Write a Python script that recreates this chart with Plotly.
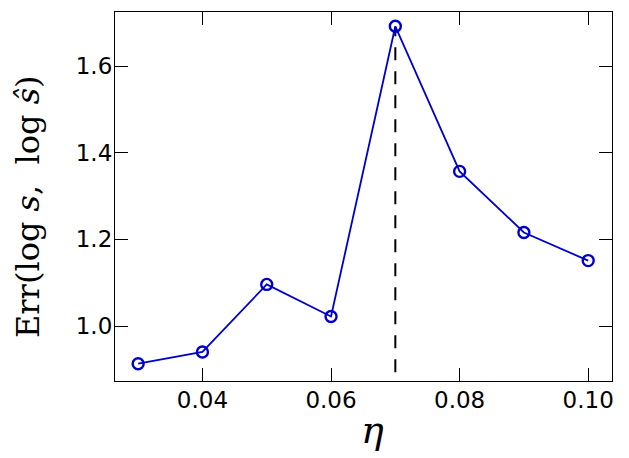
import plotly.graph_objects as go

eta = [0.03, 0.04, 0.05, 0.06, 0.07, 0.08, 0.09, 0.10]
err = [0.913, 0.940, 1.096, 1.022, 1.692, 1.357, 1.216, 1.151]
peak_eta = 0.07
vline_y = [0.893, 1.69]
x_ticks = [0.04, 0.06, 0.08, 0.10]
x_ticklabels = ["0.04", "0.06", "0.08", "0.10"]
y_ticks = [1.0, 1.2, 1.4, 1.6]
y_ticklabels = ["1.0", "1.2", "1.4", "1.6"]

fig = go.Figure()
fig.add_trace(go.Scatter(
    x=[peak_eta, peak_eta], y=vline_y, mode="lines",
    line=dict(color="black", width=2, dash="13px,11px"),
    showlegend=False, hoverinfo="skip"))
fig.add_trace(go.Scatter(
    x=eta, y=err, mode="lines+markers",
    line=dict(color="#0000CD", width=1.8),
    marker=dict(symbol="circle-open", size=11, color="#0000CD",
                line=dict(width=2.4, color="#0000CD")),
    showlegend=False))

axis_common = dict(
    showline=True, linecolor="black", linewidth=1.2, mirror="allticks",
    ticks="inside", ticklen=13, tickwidth=1.2, tickcolor="black",
    showgrid=False, zeroline=False, automargin=False,
    tickfont=dict(family="DejaVu Sans", size=23, color="black"),
)

fig.update_layout(
    width=629, height=458,
    margin=dict(l=115, r=17, t=12, b=77),
    paper_bgcolor="white", plot_bgcolor="white",
    xaxis=dict(range=[0.0264, 0.1037], tickvals=x_ticks, ticktext=x_ticklabels,
               ticklabelstandoff=-2, **axis_common),
    yaxis=dict(range=[0.873, 1.725], tickvals=y_ticks, ticktext=y_ticklabels,
               ticklabelstandoff=-3, **axis_common),
    annotations=[
        dict(text="<i>η</i>", xref="paper", yref="paper", x=0.519, y=-0.133,
             xanchor="center", yanchor="middle", showarrow=False,
             font=dict(family="DejaVu Serif", size=38, color="black")),
        dict(text="Err(log <i>s</i>,  log <i>s\u0302</i>)", xref="paper", yref="paper",
             x=-0.175, y=0.4715, xanchor="center", yanchor="middle", showarrow=False,
             textangle=-90,
             font=dict(family="DejaVu Serif", size=32, color="black")),
    ],
)

fig.write_html("out.html", config={"displayModeBar": False},
               post_script="document.body.style.margin='0';")
